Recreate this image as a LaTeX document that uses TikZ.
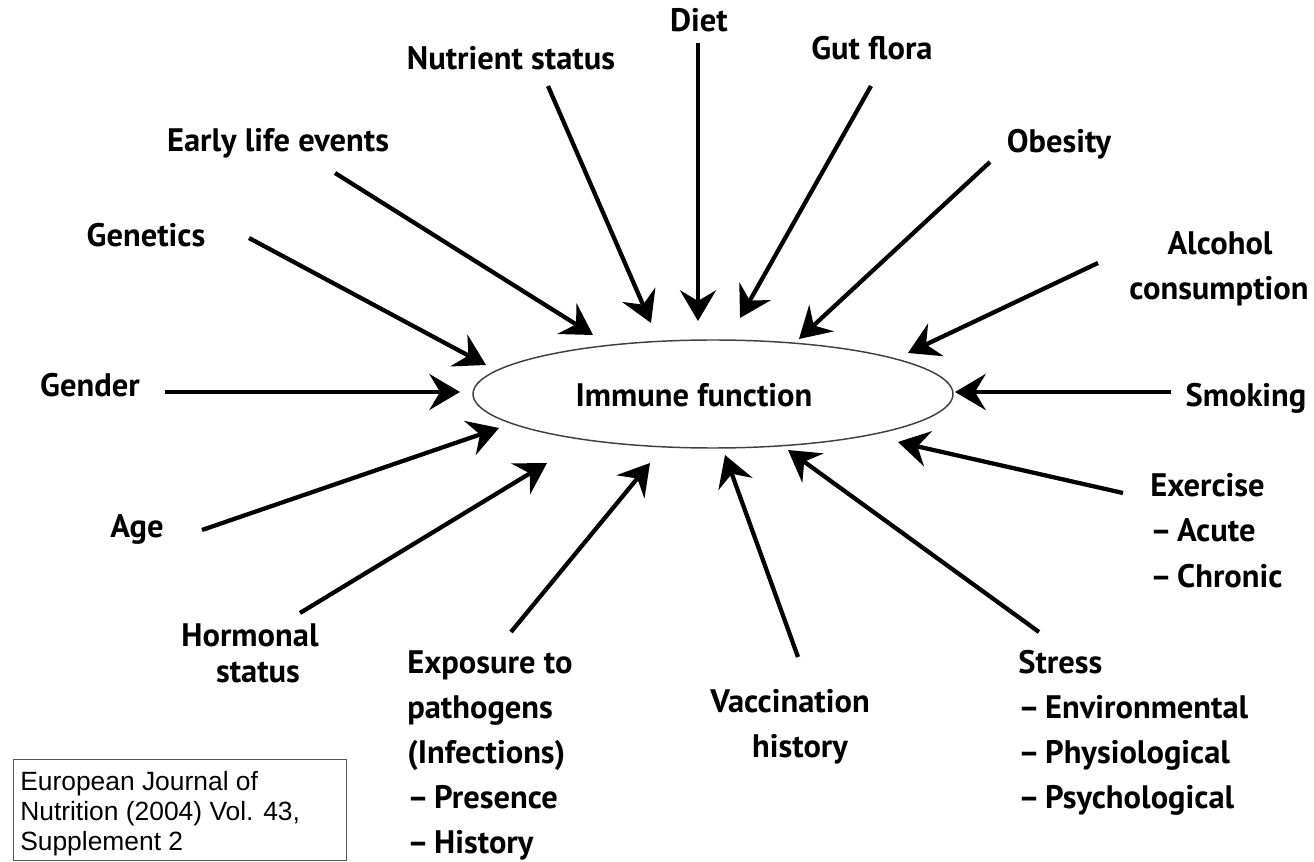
\documentclass[tikz,border=0pt]{standalone}
\usepackage{fontspec}
\setmainfont{PT Sans}
\newfontfamily\citefont{Liberation Sans}
\usetikzlibrary{arrows.meta,shapes.geometric}
\begin{document}
\begin{tikzpicture}[x=0.75pt,y=-0.75pt,
  lbl/.style={font=\bfseries\fontsize{24.4}{28}\selectfont, inner sep=0pt},
  arr/.style={line width=3.2pt, -{Stealth[length=23pt,width=27pt,inset=8pt]}},
  citetxt/.style={font=\citefont\fontsize{19.8}{23}\selectfont, inner sep=0pt, anchor=base west},
  ]
\useasboundingbox (0,0) rectangle (1314,862);
% central ellipse
\node[ellipse, draw=black!75, line width=1.1pt, minimum width=360pt, minimum height=81pt, inner sep=0pt] (imm) at (713,394) {};
\node[lbl, anchor=base] (immtxt) at (694,407) {Immune function};
% labels
\node[lbl, anchor=base] (diet) at (699,32) {Diet};
\node[lbl, anchor=base] (nutr) at (511,70) {Nutrient status};
\node[lbl, anchor=base] (gut) at (872,60) {Gut flora};
\node[lbl, anchor=base] (early) at (278,152) {Early life events};
\node[lbl, anchor=base] (obes) at (1059,153) {Obesity};
\node[lbl, anchor=base] (gen) at (146,247) {Genetics};
\node[lbl, anchor=base] (alc1) at (1220,255) {Alcohol};
\node[lbl, anchor=base] (alc2) at (1219,300) {consumption};
\node[lbl, anchor=base] (gend) at (90,397) {Gender};
\node[lbl, anchor=base] (smok) at (1246,407) {Smoking};
\node[lbl, anchor=base] (age) at (137,538) {Age};
\node[lbl, anchor=base west] (ex1) at (1150,497) {Exercise};
\node[lbl, anchor=base west] (ex2) at (1150,542) {--\,Acute};
\node[lbl, anchor=base west] (ex3) at (1150,588) {--\,Chronic};
\node[lbl, anchor=base] (hor1) at (250,647) {Hormonal};
\node[lbl, anchor=base] (hor2) at (258,682) {status};
\node[lbl, anchor=base west] (exp1) at (407,673) {Exposure to};
\node[lbl, anchor=base west] (exp2) at (407,718) {pathogens};
\node[lbl, anchor=base west] (exp3) at (407,763) {(Infections)};
\node[lbl, anchor=base west] (exp4) at (407,808) {--\,Presence};
\node[lbl, anchor=base west] (exp5) at (407,853) {--\,History};
\node[lbl, anchor=base] (vac1) at (790,712) {Vaccination};
\node[lbl, anchor=base] (vac2) at (800,757) {history};
\node[lbl, anchor=base west] (st1) at (1018,673) {Stress};
\node[lbl, anchor=base west] (st2) at (1018,718) {--\,Environmental};
\node[lbl, anchor=base west] (st3) at (1018,763) {--\,Physiological};
\node[lbl, anchor=base west] (st4) at (1018,808) {--\,Psychological};
% citation box
\node[draw=black!65, line width=1.1pt, minimum width=249.75pt, minimum height=75.75pt, anchor=north west, inner sep=0pt] (cite) at (13,759) {};
\node[citetxt] (c1) at (20,790) {European Journal of};
\node[citetxt] (c2) at (20,820) {Nutrition (2004) Vol. 43,};
\node[citetxt] (c3) at (20,850) {Supplement 2};
% arrow endpoints
\coordinate (sDiet) at (698,43);   \coordinate (eDiet) at (698,321);
\coordinate (sNutr) at (548,86);   \coordinate (eNutr) at (651,323);
\coordinate (sGut) at (871,86);    \coordinate (eGut) at (740,318);
\coordinate (sEarly) at (335,173); \coordinate (eEarly) at (593,335);
\coordinate (sObes) at (990,162);  \coordinate (eObes) at (799,339);
\coordinate (sGen) at (249,238);   \coordinate (eGen) at (486,365);
\coordinate (sAlc) at (1098,263);  \coordinate (eAlc) at (908,353);
\coordinate (sGend) at (165,392);  \coordinate (eGend) at (460,392);
\coordinate (sSmok) at (1171,392); \coordinate (eSmok) at (955,392);
\coordinate (sAge) at (202,530);   \coordinate (eAge) at (499,428);
\coordinate (sEx) at (1123,493);   \coordinate (eEx) at (898,442);
\coordinate (sHor) at (300,613);   \coordinate (eHor) at (547,463);
\coordinate (sExp) at (511,632);   \coordinate (eExp) at (650,463);
\coordinate (sVac) at (798,657);   \coordinate (eVac) at (725,455);
\coordinate (sSt) at (1039,632);   \coordinate (eSt) at (788,450);
\foreach \n in {Diet,Nutr,Gut,Early,Obes,Gen,Alc,Gend,Smok,Age,Ex,Hor,Exp,Vac,St}
  \draw[arr] (s\n) -- (e\n);
\end{tikzpicture}
\end{document}
